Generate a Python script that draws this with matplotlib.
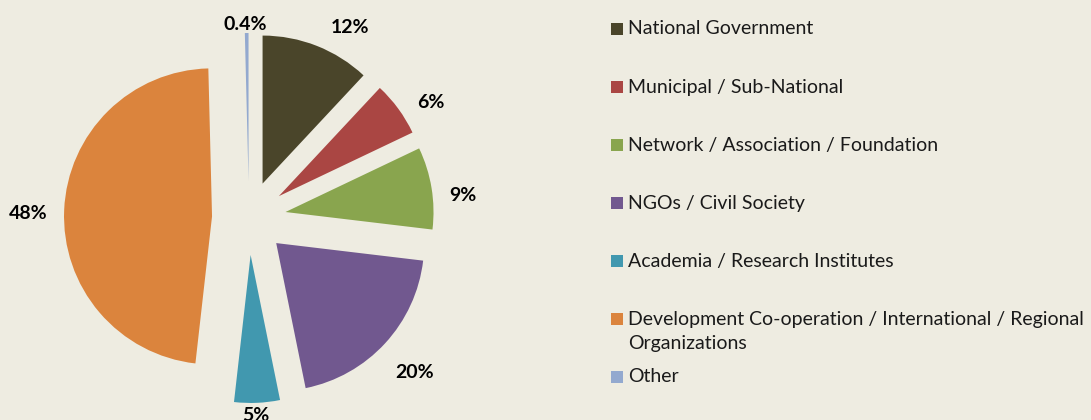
import numpy as np
import matplotlib
matplotlib.use("Agg")
import matplotlib.pyplot as plt
from matplotlib.patches import Rectangle

categories = [
    "National Government",
    "Municipal / Sub-National",
    "Network / Association / Foundation",
    "NGOs / Civil Society",
    "Academia / Research Institutes",
    "Development Co-operation / International / Regional\nOrganizations",
    "Other",
]
values = [12, 6, 9, 20, 5, 48, 0.4]
pct_labels = ["12%", "6%", "9%", "20%", "5%", "48%", "0.4%"]
colors = ["#4A452A", "#AA4643", "#89A54E", "#71588F", "#4198AF", "#DB843D", "#93A9CF"]

BG = "#EEECE1"
W, H = 1091, 420
plt.rcParams['font.family'] = ['Lato', 'DejaVu Sans']

fig = plt.figure(figsize=(W / 100, H / 100), dpi=100, facecolor=BG)
ax = fig.add_axes([0, 0, 1, 1])
ax.set_facecolor(BG)

R = 148.0      # pie radius in pixels
cx, cy = 249.0, 218.0   # pie center (pixels from left / top)

wedges, _ = ax.pie(values, colors=colors, startangle=90, counterclock=False,
                   explode=[0.25] * len(values), radius=1.0,
                   wedgeprops=dict(linewidth=0))
ax.set_xlim(-cx / R, (W - cx) / R)
ax.set_ylim(-(H - cy) / R, cy / R)
ax.set_aspect('equal')
ax.axis('off')

# label placement: distance (in radii) from exploded wedge apex, angular nudge (deg)
label_dist = [1.212, 1.209, 1.204, 1.280, 1.082, 1.244, 1.058]
label_nudge = [-7.7, -4.5, -4.0, -0.6, -0.6, 1.6, 0.6]
for w, lab, d, nd in zip(wedges, pct_labels, label_dist, label_nudge):
    ang = np.deg2rad((w.theta1 + w.theta2) / 2 + nd)
    ex, ey = w.center
    ax.text(ex + d * np.cos(ang), ey + d * np.sin(ang), lab,
            ha='center', va='center',
            fontsize=14, fontweight='bold', color='#000000')

# legend
row_y = [29, 87, 145, 203, 261, 319, 377]
line_gap = 24
for cat, col, y in zip(categories, colors, row_y):
    fig.patches.append(Rectangle((611 / W, 1 - (y + 6) / H), 12 / W, 12 / H,
                                 transform=fig.transFigure, facecolor=col,
                                 edgecolor='none'))
    for k, line in enumerate(cat.split('\n')):
        fig.text(628 / W, 1 - (y + k * line_gap) / H, line, ha='left',
                 va='center', fontsize=14, color='#1a1a1a')

fig.savefig("out.png", dpi=100, facecolor=BG)
